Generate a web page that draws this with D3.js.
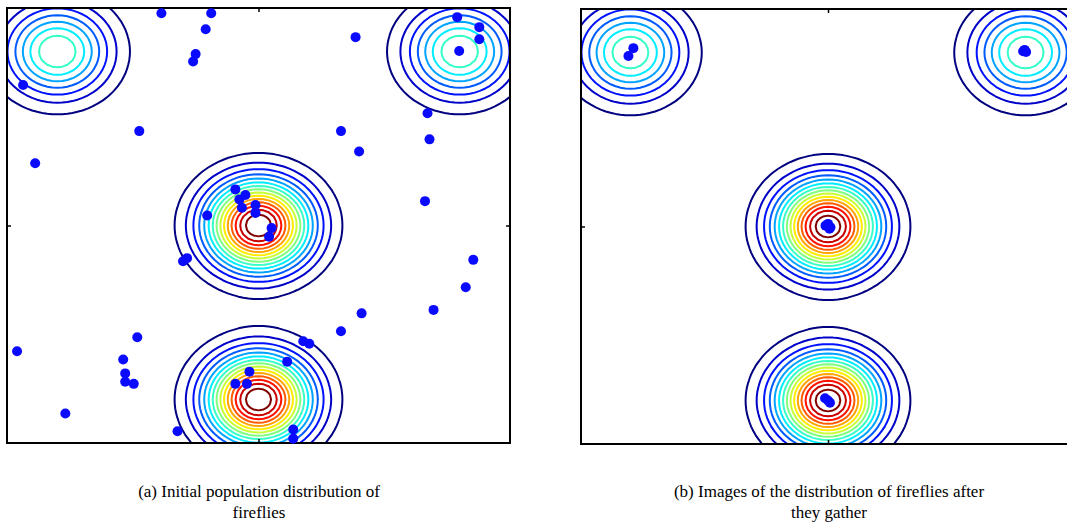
<!DOCTYPE html>
<html>
<head>
<meta charset="utf-8">
<script src="https://cdn.jsdelivr.net/npm/d3@7"></script>
<style>
  body { margin: 0; background: #fff; }
  svg { display: block; }
</style>
</head>
<body>
<svg id="chart" width="1067" height="523"></svg>
<script>
// objective surface: sum of gaussian bumps [x, y, height]
const peakX = [4, -4, 0, 0]
const peakY = [4, 4, 0, -4]
const peakH = [1, 1, 2, 2]
const levels = d3.range(1, 16).map(k => k * 0.125)
const domainX = [-5, 5]
const domainY = [-5, 5]
const tickValues = [0]

// (a) fireflies at start
const initialX = [-1.93, -0.94, -1.05, -1.25, -1.30, -4.68, 1.93, 3.95, 4.39, 4.39,
    3.99, 3.36, -2.37, 1.64, 3.40, 2.00, -4.44, 3.31, -0.46, -0.26,
    -0.38, -0.33, -0.06, -0.06, -1.02, 0.26, 0.21, -1.50, -1.42, 4.27,
    4.12, 3.48, 2.05, 1.64, -2.41, -4.80, 0.89, 1.01, -2.69, 0.57,
    -2.65, -0.18, -0.46, -0.23, -2.65, -2.48, -3.84, -1.61, 0.69, 0.69]
const initialY = [4.88, 4.88, 4.51, 3.94, 3.77, 3.23, 4.33, 4.79, 4.56, 4.28,
    4.01, 2.58, 2.17, 2.17, 1.98, 1.70, 1.43, 0.56, 0.83, 0.70,
    0.60, 0.41, 0.47, 0.29, 0.23, -0.06, -0.26, -0.82, -0.75, -0.79,
    -1.42, -1.94, -2.02, -2.43, -2.57, -2.89, -2.66, -2.72, -3.08, -3.13,
    -3.40, -3.36, -3.64, -3.64, -3.59, -3.64, -4.32, -4.73, -4.69, -4.90]

// (b) fireflies after gathering
const finalX = [-4.04, -3.94, 3.95, 4.01, 3.98, -0.05, 0.05, 0.00, 0.03, -0.06, 0.04, 0.00]
const finalY = [3.92, 4.10, 4.03, 4.01, 4.06, 0.02, -0.02, 0.06, -0.05, -3.95, -4.05, -4.00]

const captions = [
    ["(a) Initial population distribution of", "fireflies"],
    ["(b) Images of the distribution of fireflies after", "they gather"]
]

const panels = [
    { x0: 7, x1: 510, y0: 8, y1: 443, xs: initialX, ys: initialY, cap: captions[0], cx: 259 },
    { x0: 581, x1: 1075, y0: 9, y1: 444, xs: finalX, ys: finalY, cap: captions[1], cx: 829 }
]

const f = (x, y) => d3.sum(peakH, (h, i) => h * Math.exp(-((x - peakX[i]) ** 2 + (y - peakY[i]) ** 2)))

// sample on a 0.1 grid a bit wider than the view, clip later
const step = 0.1, g0 = -6, n = 121
const values = new Array(n * n)
for (let j = 0; j < n; j++) {
    for (let i = 0; i < n; i++) {
        values[j * n + i] = f(g0 + i * step, -g0 - j * step)
    }
}
const contours = d3.contours().size([n, n]).thresholds(levels)(values)

const jet = t => {
    const c = v => Math.round(255 * Math.max(0, Math.min(1, 1.5 - Math.abs(4 * t - v))))
    return `rgb(${c(3)},${c(2)},${c(1)})`
}
const levelT = d3.scaleLinear().domain(d3.extent(levels)).range([0, 1])

const svg = d3.select('#chart')

panels.forEach((p, k) => {
    const x = d3.scaleLinear().domain(domainX).range([p.x0, p.x1])
    const y = d3.scaleLinear().domain(domainY).range([p.y1, p.y0])
    const g = svg.append('g')

    g.append('clipPath').attr('id', 'clip' + k)
        .append('rect')
        .attr('x', p.x0).attr('y', p.y0)
        .attr('width', p.x1 - p.x0).attr('height', p.y1 - p.y0)

    const path = d3.geoPath(d3.geoTransform({
        point(cx, cy) {
            this.stream.point(x(g0 + (cx - 0.5) * step), y(-g0 - (cy - 0.5) * step))
        }
    }))

    g.append('g')
        .attr('clip-path', `url(#clip${k})`)
        .selectAll('path')
        .data(contours)
        .join('path')
        .attr('d', path)
        .attr('fill', 'none')
        .attr('stroke', d => jet(levelT(d.value)))
        .attr('stroke-width', 2)
        .attr('stroke-linejoin', 'round')

    // frame + the single tick at zero on each side
    g.append('rect')
        .attr('x', p.x0).attr('y', p.y0)
        .attr('width', p.x1 - p.x0).attr('height', p.y1 - p.y0)
        .attr('fill', 'none')
        .attr('stroke', '#000')
        .attr('stroke-width', 2)

    const axes = [
        [d3.axisBottom(x), `translate(0,${p.y1})`],
        [d3.axisTop(x), `translate(0,${p.y0})`],
        [d3.axisLeft(y), `translate(${p.x0},0)`],
        [d3.axisRight(y), `translate(${p.x1},0)`]
    ]
    axes.forEach(([ax, tr]) => {
        g.append('g')
            .attr('transform', tr)
            .call(ax.tickValues(tickValues).tickSize(-4).tickFormat(''))
            .call(a => a.select('.domain').remove())
            .call(a => a.selectAll('line').attr('stroke', '#000').attr('stroke-width', 1.5))
    })

    g.append('g')
        .selectAll('circle')
        .data(p.xs)
        .join('circle')
        .attr('cx', d => x(d))
        .attr('cy', (d, i) => y(p.ys[i]))
        .attr('r', 5)
        .attr('fill', '#0a0aff')

    g.append('text')
        .attr('text-anchor', 'middle')
        .attr('font-family', '"Liberation Serif", serif')
        .attr('font-size', 17)
        .attr('fill', '#000')
        .selectAll('tspan')
        .data(p.cap)
        .join('tspan')
        .attr('x', p.cx)
        .attr('y', (d, i) => 497 + i * 21)
        .text(d => d)
})
</script>
</body>
</html>
